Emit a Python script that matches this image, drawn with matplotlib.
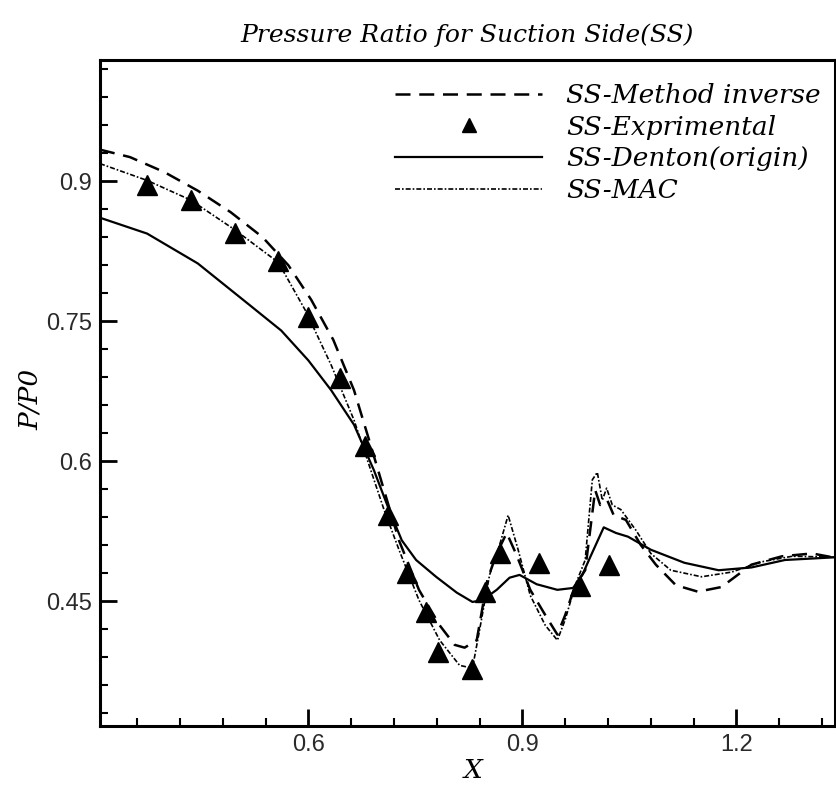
import matplotlib.pyplot as plt
from matplotlib.ticker import MultipleLocator

# Method inverse (dashed)
x_inv = [0.308, 0.350, 0.398, 0.445, 0.491, 0.536, 0.572, 0.604, 0.635, 0.664,
         0.685, 0.706, 0.727, 0.755, 0.784, 0.805, 0.819, 0.836, 0.851, 0.864,
         0.878, 0.892, 0.911, 0.932, 0.949, 0.960, 0.974, 0.988, 1.002, 1.009,
         1.019, 1.028, 1.045, 1.066, 1.087, 1.115, 1.146, 1.179, 1.221, 1.264,
         1.306, 1.341]
y_inv = [0.934, 0.926, 0.910, 0.890, 0.867, 0.840, 0.810, 0.773, 0.730, 0.676,
         0.623, 0.569, 0.515, 0.462, 0.424, 0.403, 0.400, 0.408, 0.473, 0.501,
         0.523, 0.499, 0.462, 0.435, 0.414, 0.435, 0.467, 0.483, 0.569, 0.553,
         0.558, 0.542, 0.537, 0.510, 0.489, 0.467, 0.460, 0.465, 0.489, 0.498,
         0.501, 0.496]

# Experimental points
x_exp = [0.374, 0.435, 0.497, 0.558, 0.599, 0.644, 0.679, 0.712, 0.738, 0.765,
         0.782, 0.830, 0.847, 0.868, 0.923, 0.981, 1.022]
y_exp = [0.896, 0.880, 0.845, 0.815, 0.755, 0.689, 0.616, 0.542, 0.480, 0.438,
         0.395, 0.377, 0.460, 0.502, 0.491, 0.466, 0.489]

# Denton (origin)
x_den = [0.308, 0.374, 0.445, 0.515, 0.562, 0.600, 0.632, 0.664, 0.692, 0.713,
         0.731, 0.751, 0.779, 0.808, 0.830, 0.844, 0.864, 0.882, 0.896, 0.920,
         0.949, 0.971, 0.984, 0.995, 1.014, 1.031, 1.048, 1.080, 1.127, 1.175,
         1.221, 1.268, 1.341]
y_den = [0.861, 0.844, 0.812, 0.769, 0.740, 0.708, 0.676, 0.639, 0.590, 0.548,
         0.515, 0.494, 0.476, 0.459, 0.449, 0.451, 0.462, 0.475, 0.478, 0.468,
         0.462, 0.464, 0.478, 0.497, 0.529, 0.523, 0.519, 0.505, 0.491, 0.483,
         0.486, 0.494, 0.497]

# MAC
x_mac = [0.308, 0.374, 0.435, 0.497, 0.558, 0.597, 0.632, 0.664, 0.685, 0.706,
         0.727, 0.755, 0.784, 0.812, 0.830, 0.840, 0.854, 0.868, 0.880, 0.894,
         0.911, 0.932, 0.949, 0.960, 0.974, 0.988, 0.998, 1.005, 1.012, 1.018,
         1.026, 1.038, 1.059, 1.080, 1.108, 1.151, 1.193, 1.235, 1.278, 1.341]
y_mac = [0.919, 0.901, 0.880, 0.848, 0.813, 0.760, 0.703, 0.644, 0.596, 0.548,
         0.505, 0.451, 0.408, 0.381, 0.378, 0.419, 0.478, 0.510, 0.542, 0.505,
         0.456, 0.424, 0.408, 0.430, 0.467, 0.494, 0.580, 0.588, 0.558, 0.571,
         0.553, 0.548, 0.526, 0.501, 0.483, 0.476, 0.481, 0.492, 0.498, 0.497]

serif = "DejaVu Serif"

fig = plt.figure(figsize=(8.37, 7.88), dpi=100)
ax = fig.add_axes([0.1195, 0.0787, 0.878, 0.845])

ax.plot(x_inv, y_inv, color="black", lw=1.8, ls=(0, (6, 3.5)), label="SS-Method inverse")
ax.plot(x_exp, y_exp, ls="none", marker="^", ms=14, color="black", label="SS-Exprimental")
ax.plot(x_den, y_den, color="black", lw=1.6, label="SS-Denton(origin)")
ax.plot(x_mac, y_mac, color="black", lw=1.2, ls=(0, (3, 1.2, 1, 1.2)), label="SS-MAC")

ax.set_xlim(0.308, 1.338)
ax.set_ylim(0.316, 1.03)
ax.xaxis.set_major_locator(MultipleLocator(0.3))
ax.xaxis.set_minor_locator(MultipleLocator(0.06))
ax.yaxis.set_major_locator(MultipleLocator(0.15))
ax.yaxis.set_minor_locator(MultipleLocator(0.03))
ax.set_xticks([0.6, 0.9, 1.2])
ax.set_xticklabels(["0.6", "0.9", "1.2"])
ax.set_yticks([0.45, 0.6, 0.75, 0.9])
ax.set_yticklabels(["0.45", "0.6", "0.75", "0.9"])

ax.tick_params(which="major", direction="in", length=12, width=2,
               labelsize=17, labelcolor="#2a2a2a", pad=6)
ax.tick_params(which="minor", direction="in", length=6, width=1.5)
ax.tick_params(top=False, right=False)
for lab in ax.get_xticklabels() + ax.get_yticklabels():
    lab.set_family("Liberation Sans")
for s in ax.spines.values():
    s.set_linewidth(2.2)

ax.set_title("Pressure Ratio for Suction Side(SS)", family=serif, style="italic",
             fontsize=18, pad=13)
ax.set_xlabel("X", family=serif, style="italic", fontsize=19)
ax.set_ylabel("P/P0", family=serif, style="italic", fontsize=19)
ax.xaxis.set_label_coords(0.507, -0.048)
ax.yaxis.set_label_coords(-0.078, 0.49)

ax.legend(loc="upper left", bbox_to_anchor=(0.401, 0.966), frameon=False,
          prop={"family": serif, "style": "italic", "size": 19},
          handlelength=5.6, handletextpad=0.9, labelspacing=0.26,
          borderpad=0, borderaxespad=0, markerscale=0.7)

plt.savefig("out.png", dpi=100)
